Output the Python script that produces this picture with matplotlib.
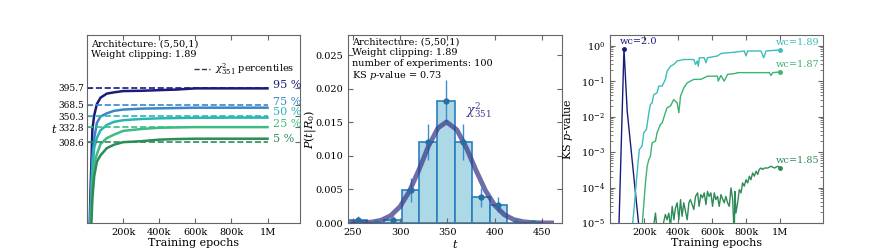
import numpy as np
import matplotlib
matplotlib.use('Agg')
import matplotlib.pyplot as plt

# ---- panel 1: percentiles of t during training ----
epochs = np.array([10, 20, 30, 40, 55, 75, 110, 150, 200, 300, 400, 500, 600, 700, 800, 900, 1000]) * 1e3
pct_labels = ['95 %', '75 %', '50 %', '25 %', '5 %']
chi2_pct = [395.7, 368.5, 350.3, 332.8, 308.6]
t_95 = [120, 235, 330, 352, 370, 380, 386.5, 388.5, 390.5, 391, 392, 393, 394.8, 394.8, 394.8, 394.8, 394.8]
t_75 = [110, 205, 285, 315, 340, 350, 355, 359, 361, 362.5, 363, 363.5, 364, 364, 364, 364, 364]
t_50 = [100, 190, 265, 300, 316, 328, 336.5, 341.5, 344, 346, 347, 347.5, 348, 348, 348.2, 348.2, 348.2]
t_25 = [90, 170, 240, 275, 290, 306, 315.5, 321, 327, 330, 332, 332.5, 333, 333, 333, 333, 333]
t_05 = [80, 150, 220, 255, 278, 288, 299.5, 305, 309, 310.5, 313, 314, 314.5, 314.5, 314.5, 314.5, 314.5]

# ---- panel 2: histogram of t ----
bin_edges = [246.5, 265, 283.5, 302, 320.5, 339, 357.5, 376, 394.5, 413, 431.5, 450]
hist_density = [0.00052, 0, 0.00052, 0.0049, 0.0121, 0.0182, 0.0121, 0.0038, 0.0027, 0, 0]
hist_err = [0.0005, 0, 0.0005, 0.0018, 0.0027, 0.0031, 0.0027, 0.0014, 0.0011, 0, 0]
chi2_t = [250, 260, 270, 280, 290, 300, 310, 320, 330, 340, 349, 360, 370, 380, 390, 400, 410, 420, 430, 440, 450, 460]
chi2_pdf = [0.000009, 0.000037, 0.000134, 0.00041, 0.00108, 0.00244, 0.00476, 0.00796, 0.01145, 0.01415, 0.01505,
            0.01388, 0.01119, 0.0079, 0.00487, 0.00263, 0.00124, 0.00051, 0.000185, 0.000058, 0.000016, 0.000004]

# ---- panel 3: KS p-value vs epochs (log10 p) ----
wc20_k = [40, 82, 101, 180]
wc20_logp = [-7.2, -0.085, -1.85, -5.6]
wc189_k = [120, 139, 159, 172, 188, 198, 214, 228, 237, 247, 257, 276, 286, 306, 325, 335, 355, 374, 394, 433,
           492, 502, 512, 518, 524, 553, 563, 572, 631, 651, 739, 788, 798, 808, 886, 902, 916, 1000]
wc189_logp = [-5.6, -4.72, -3.59, -2.93, -2.83, -2.46, -2.36, -1.89, -1.66, -1.61, -1.38, -1.33, -1.14, -1.14,
              -0.95, -0.72, -0.58, -0.53, -0.43, -0.39, -0.39, -0.53, -0.43, -0.58, -0.34, -0.34, -0.48, -0.34,
              -0.29, -0.22, -0.18, -0.15, -0.29, -0.15, -0.15, -0.34, -0.15, -0.12]
wc187_k = [180, 208, 218, 228, 237, 247, 267, 276, 296, 306, 325, 335, 355, 374, 394, 404, 414, 433, 453, 472,
           492, 512, 533, 572, 631, 635, 651, 670, 690, 739, 749, 935, 945, 955, 1000]
wc187_logp = [-5.6, -3.87, -3.40, -3.21, -3.12, -2.74, -2.69, -2.46, -2.22, -2.18, -1.89, -1.75, -1.70, -1.52,
              -1.61, -1.89, -1.42, -1.19, -1.05, -1.0, -0.95, -0.95, -0.95, -0.86, -0.86, -1.0, -0.84, -1.0,
              -0.81, -0.78, -0.76, -0.76, -0.84, -0.76, -0.74]
wc185_k = [240, 267, 276, 300, 325, 335, 345, 355, 365, 375, 384, 394, 404, 414, 423, 433, 453, 463, 472, 492,
           502, 514, 523, 533, 543, 553, 563, 572, 582, 592, 602, 612, 621, 631, 641, 651, 670, 680, 690, 700,
           710, 720, 729, 733, 739, 749, 759, 769, 778, 788, 798, 808, 818, 827, 837, 847, 857, 867, 876, 886,
           896, 906, 925, 945, 965, 984, 1000]
wc185_logp = [-5.6, -4.72, -5.2, -5.3, -4.76, -4.91, -4.72, -5.1, -4.53, -4.91, -4.58, -4.43, -4.91, -4.34,
              -4.81, -4.43, -4.91, -4.43, -4.34, -4.62, -4.25, -4.15, -4.53, -4.20, -4.29, -4.15, -4.48, -4.11,
              -4.25, -4.15, -4.53, -4.15, -4.34, -4.25, -4.53, -4.20, -4.43, -4.25, -4.43, -4.53, -4.01, -4.34,
              -5.4, -4.11, -4.72, -4.43, -4.06, -4.15, -3.87, -3.96, -3.78, -3.87, -3.68, -3.78, -3.59, -3.68,
              -3.54, -3.63, -3.49, -3.45, -3.49, -3.45, -3.45, -3.40, -3.45, -3.40, -3.45]

plt.rcParams.update({
    'font.family': 'DejaVu Serif',
    'mathtext.fontset': 'dejavuserif',
    'font.size': 7,
    'xtick.direction': 'in',
    'ytick.direction': 'in',
    'xtick.top': True,
    'ytick.right': True,
    'axes.edgecolor': '#666666',
    'xtick.color': '#666666',
    'ytick.color': '#666666',
    'xtick.labelcolor': 'black',
    'ytick.labelcolor': 'black',
})

fig = plt.figure(figsize=(8.72, 2.49), dpi=100)
ax1 = fig.add_axes([87 / 872, 26 / 249, 213 / 872, 188 / 249])
ax2 = fig.add_axes([348 / 872, 26 / 249, 214 / 872, 188 / 249])
ax3 = fig.add_axes([610 / 872, 26 / 249, 213 / 872, 188 / 249])

epoch_ticks = [2e5, 4e5, 6e5, 8e5, 1e6]
epoch_labels = ['200k', '400k', '600k', '800k', '1M']

# panel 1
cols = ['#1b1b7e', '#3a86c8', '#2ab5b5', '#3dbb82', '#2e8b57']
label_y = [400, 373.5, 356.7, 337.7, 314.5]
for vals, q, col, lab, ly in zip([t_95, t_75, t_50, t_25, t_05], chi2_pct, cols, pct_labels, label_y):
    ax1.hlines(q, 0, 1e6, colors=col, linestyles='--', lw=1.2)
    ax1.plot(epochs, vals, color=col, lw=1.8)
    ax1.text(1.03e6, ly, lab, color=col, fontsize=8, va='center')
ax1.plot([], [], ls='--', color='#333355', lw=1, label=r'$\chi^2_{351}$ percentiles')
ax1.legend(loc='upper right', bbox_to_anchor=(1.0, 0.89), frameon=False, handlelength=1.6,
           handletextpad=0.5, borderaxespad=0.2, fontsize=7)
ax1.text(0.02, 0.975, 'Architecture: (5,50,1)\nWeight clipping: 1.89', transform=ax1.transAxes,
         va='top', ha='left')
ax1.set_xlim(0, 1.18e6)
ax1.set_ylim(180, 480)
ax1.set_xticks(epoch_ticks)
ax1.set_xticklabels(epoch_labels)
ax1.set_yticks(chi2_pct)
ax1.set_yticklabels(['%.1f' % q for q in chi2_pct])
ax1.tick_params(axis='y', labelsize=6.5, pad=2)
ax1.set_xlabel('Training epochs', fontsize=8, labelpad=1)
ax1.set_ylabel('$t$', rotation=0, fontsize=8, va='center')
ax1.yaxis.set_label_coords(-0.155, 0.5)

# panel 2
edges = np.array(bin_edges)
centers = (edges[:-1] + edges[1:]) / 2
ax2.bar(centers, hist_density, width=np.diff(edges), color='#add8e6', edgecolor='#2a7fc0', lw=1.2)
ax2.errorbar(centers, hist_density, yerr=hist_err, fmt='o', ms=3.5, color='#2a6f9f',
             ecolor='#3a8fd0', elinewidth=1)
ax2.plot(chi2_t, chi2_pdf, color='#3c3c8c', lw=3.5, alpha=0.75)
ax2.text(370, 0.0168, r'$\chi^2_{351}$', color='#3c3c8c', fontsize=9, va='center')
ax2.text(0.02, 0.985, 'Architecture: (5,50,1)\nWeight clipping: 1.89\nnumber of experiments: 100\n'
         'KS $p$-value = 0.73', transform=ax2.transAxes, va='top', ha='left')
ax2.set_xlim(245, 471)
ax2.set_ylim(0, 0.028)
ax2.set_xticks([250, 300, 350, 400, 450])
ax2.set_yticks([0, 0.005, 0.01, 0.015, 0.02, 0.025])
ax2.set_yticklabels(['%.3f' % v for v in [0, 0.005, 0.01, 0.015, 0.02, 0.025]])
ax2.set_xlabel('$t$', fontsize=8, labelpad=1)
ax2.set_ylabel('$P(t|R_0)$', fontsize=8)
ax2.yaxis.set_label_coords(-0.14, 0.5)

# panel 3
series = [(wc20_k, wc20_logp, '#1b1b7e', 'wc=2.0', 1),
          (wc189_k, wc189_logp, '#3cbcbc', 'wc=1.89', -1),
          (wc187_k, wc187_logp, '#3cb371', 'wc=1.87', -1),
          (wc185_k, wc185_logp, '#2e8b57', 'wc=1.85', -1)]
for xk, lp, col, lab, mi in series:
    x = np.array(xk) * 1e3
    p = 10.0 ** np.array(lp)
    ax3.plot(x, p, color=col, lw=1)
    ax3.plot(x[mi], p[mi], 'o', ms=2.5, color=col)
    ax3.annotate(lab, (x[mi], p[mi]), xytext=(-3, 2), textcoords='offset points',
                 ha='left', va='bottom', color=col, fontsize=7)
ax3.set_yscale('log')
ax3.set_xlim(0, 1.25e6)
ax3.set_ylim(1e-5, 2)
ax3.set_xticks(epoch_ticks)
ax3.set_xticklabels(epoch_labels)
ax3.set_xlabel('Training epochs', fontsize=8, labelpad=1)
ax3.set_ylabel('KS $p$-value', fontsize=8)

fig.savefig('out.png', dpi=100)
